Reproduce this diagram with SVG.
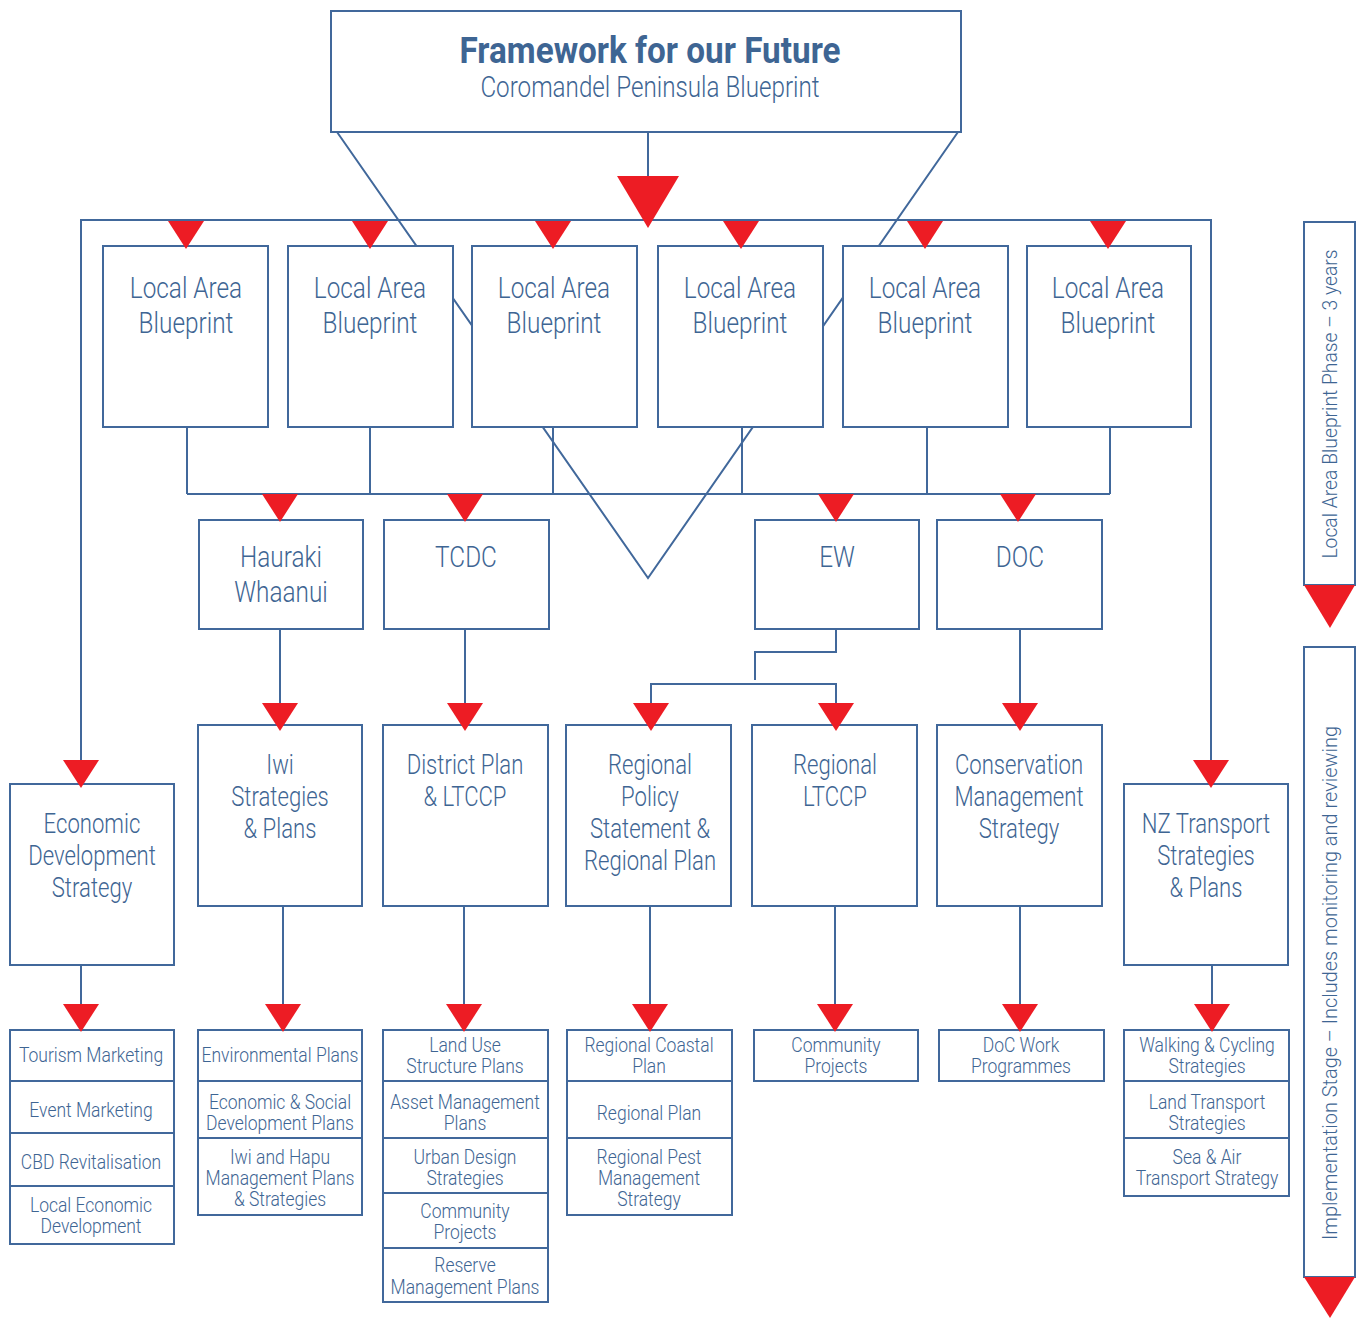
<svg xmlns="http://www.w3.org/2000/svg" width="1362" height="1318" viewBox="0 0 1362 1318">
  <style>
    .box { fill: #ffffff; stroke: #41689b; stroke-width: 2; }
    .ln { fill: none; stroke: #41689b; stroke-width: 2; }
    .tri { fill: #ed1c24; }
    text { font-family: Roboto, "Liberation Sans", sans-serif; fill: #3e6593; text-anchor: middle; font-weight: 300; }
    .big { font-size: 29px; }
    .mid { font-size: 27px; }
    .sm { font-size: 20px; }
    .title { font-size: 37px; font-weight: 700; }
    .sub { font-size: 29px; }
    .side { font-size: 21px; }
  </style>
  <defs>
    <polygon id="arrow" class="tri" points="-18,0 18,0 0,28"/>
  </defs>

  <rect width="1362" height="1318" fill="#ffffff"/>

  <!-- connector lines (drawn beneath the boxes) -->
  <g id="connectors">
    <path class="ln" d="M648,132 V176"/>
    <path class="ln" d="M337,132 L648,578 L958,132"/>
    <path class="ln" d="M81,762 V220 H1211 V762"/>
    <path class="ln" d="M187,427 V494 M370,427 V494 M553,427 V494 M742,427 V494 M927,427 V494 M1110,427 V494 M187,494 H1110"/>
    <path class="ln" d="M280,629 V705 M465,629 V705 M1020,629 V705"/>
    <path class="ln" d="M836,629 V652 H755 V680 M651,705 V684 H836 V705"/>
    <path class="ln" d="M81,965 V1006 M283,906 V1006 M464,906 V1006 M650,906 V1006 M835,906 V1006 M1020,906 V1006 M1212,965 V1006"/>
  </g>

  <!-- title -->
  <g id="title">
    <rect class="box" x="331" y="11" width="630" height="121"/>
    <text class="title" transform="matrix(0.9 0 0 1 650 0)" x="0" y="63">Framework for our Future</text>
    <text class="sub" transform="matrix(0.835 0 0 1 650 0)" x="0" y="97">Coromandel Peninsula Blueprint</text>
  </g>

  <!-- local area blueprints -->
  <g id="lab1"><rect class="box" x="103" y="246" width="165" height="181"/>
    <text class="big" transform="matrix(0.84 0 0 1 186 0)"><tspan x="0" y="298">Local Area</tspan><tspan x="0" y="333">Blueprint</tspan></text></g>
  <g id="lab2"><rect class="box" x="288" y="246" width="165" height="181"/>
    <text class="big" transform="matrix(0.84 0 0 1 370 0)"><tspan x="0" y="298">Local Area</tspan><tspan x="0" y="333">Blueprint</tspan></text></g>
  <g id="lab3"><rect class="box" x="472" y="246" width="165" height="181"/>
    <text class="big" transform="matrix(0.84 0 0 1 554 0)"><tspan x="0" y="298">Local Area</tspan><tspan x="0" y="333">Blueprint</tspan></text></g>
  <g id="lab4"><rect class="box" x="658" y="246" width="165" height="181"/>
    <text class="big" transform="matrix(0.84 0 0 1 740 0)"><tspan x="0" y="298">Local Area</tspan><tspan x="0" y="333">Blueprint</tspan></text></g>
  <g id="lab5"><rect class="box" x="843" y="246" width="165" height="181"/>
    <text class="big" transform="matrix(0.84 0 0 1 925 0)"><tspan x="0" y="298">Local Area</tspan><tspan x="0" y="333">Blueprint</tspan></text></g>
  <g id="lab6"><rect class="box" x="1027" y="246" width="164" height="181"/>
    <text class="big" transform="matrix(0.84 0 0 1 1108 0)"><tspan x="0" y="298">Local Area</tspan><tspan x="0" y="333">Blueprint</tspan></text></g>

  <!-- agencies -->
  <g id="hauraki"><rect class="box" x="199" y="520" width="164" height="109"/>
    <text class="big" transform="matrix(0.84 0 0 1 281 0)"><tspan x="0" y="567">Hauraki</tspan><tspan x="0" y="602">Whaanui</tspan></text></g>
  <g id="tcdc"><rect class="box" x="384" y="520" width="165" height="109"/>
    <text class="big" transform="matrix(0.84 0 0 1 466 0)" x="0" y="567">TCDC</text></g>
  <g id="ew"><rect class="box" x="755" y="520" width="164" height="109"/>
    <text class="big" transform="matrix(0.84 0 0 1 837 0)" x="0" y="567">EW</text></g>
  <g id="doc"><rect class="box" x="937" y="520" width="165" height="109"/>
    <text class="big" transform="matrix(0.84 0 0 1 1020 0)" x="0" y="567">DOC</text></g>

  <!-- strategies and plans -->
  <g id="econ-dev"><rect class="box" x="10" y="784" width="164" height="181"/>
    <text class="mid" transform="matrix(0.82 0 0 1 92 0)"><tspan x="0" y="833">Economic</tspan><tspan x="0" y="865">Development</tspan><tspan x="0" y="897">Strategy</tspan></text></g>
  <g id="iwi"><rect class="box" x="198" y="725" width="164" height="181"/>
    <text class="mid" transform="matrix(0.82 0 0 1 280 0)"><tspan x="0" y="774">Iwi</tspan><tspan x="0" y="806">Strategies</tspan><tspan x="0" y="838">&amp; Plans</tspan></text></g>
  <g id="district-plan"><rect class="box" x="383" y="725" width="165" height="181"/>
    <text class="mid" transform="matrix(0.82 0 0 1 465 0)"><tspan x="0" y="774">District Plan</tspan><tspan x="0" y="806">&amp; LTCCP</tspan></text></g>
  <g id="regional-policy"><rect class="box" x="566" y="725" width="165" height="181"/>
    <text class="mid" transform="matrix(0.82 0 0 1 650 0)"><tspan x="0" y="774">Regional</tspan><tspan x="0" y="806">Policy</tspan><tspan x="0" y="838">Statement &amp;</tspan><tspan x="0" y="870">Regional Plan</tspan></text></g>
  <g id="regional-ltccp"><rect class="box" x="752" y="725" width="165" height="181"/>
    <text class="mid" transform="matrix(0.82 0 0 1 835 0)"><tspan x="0" y="774">Regional</tspan><tspan x="0" y="806">LTCCP</tspan></text></g>
  <g id="conservation"><rect class="box" x="937" y="725" width="165" height="181"/>
    <text class="mid" transform="matrix(0.82 0 0 1 1019 0)"><tspan x="0" y="774">Conservation</tspan><tspan x="0" y="806">Management</tspan><tspan x="0" y="838">Strategy</tspan></text></g>
  <g id="nz-transport"><rect class="box" x="1124" y="784" width="164" height="181"/>
    <text class="mid" transform="matrix(0.82 0 0 1 1206 0)"><tspan x="0" y="833">NZ Transport</tspan><tspan x="0" y="865">Strategies</tspan><tspan x="0" y="897">&amp; Plans</tspan></text></g>

  <!-- implementation lists -->
  <g id="list-econ">
    <rect class="box" x="10" y="1030" width="164" height="51"/>
    <rect class="box" x="10" y="1081" width="164" height="52"/>
    <rect class="box" x="10" y="1133" width="164" height="53"/>
    <rect class="box" x="10" y="1186" width="164" height="58"/>
    <text class="sm" transform="matrix(0.875 0 0 1 91 0)"><tspan x="0" y="1062">Tourism Marketing</tspan><tspan x="0" y="1117">Event Marketing</tspan><tspan x="0" y="1169">CBD Revitalisation</tspan><tspan x="0" y="1212">Local Economic</tspan><tspan x="0" y="1233">Development</tspan></text>
  </g>
  <g id="list-iwi">
    <rect class="box" x="198" y="1030" width="164" height="51"/>
    <rect class="box" x="198" y="1081" width="164" height="57"/>
    <rect class="box" x="198" y="1138" width="164" height="77"/>
    <text class="sm" transform="matrix(0.875 0 0 1 280 0)"><tspan x="0" y="1062">Environmental Plans</tspan><tspan x="0" y="1109">Economic &amp; Social</tspan><tspan x="0" y="1130">Development Plans</tspan><tspan x="0" y="1164">Iwi and Hapu</tspan><tspan x="0" y="1185">Management Plans</tspan><tspan x="0" y="1206">&amp; Strategies</tspan></text>
  </g>
  <g id="list-district">
    <rect class="box" x="383" y="1030" width="165" height="51"/>
    <rect class="box" x="383" y="1081" width="165" height="57"/>
    <rect class="box" x="383" y="1138" width="165" height="55"/>
    <rect class="box" x="383" y="1193" width="165" height="55"/>
    <rect class="box" x="383" y="1248" width="165" height="54"/>
    <text class="sm" transform="matrix(0.875 0 0 1 465 0)"><tspan x="0" y="1052">Land Use</tspan><tspan x="0" y="1073">Structure Plans</tspan><tspan x="0" y="1109">Asset Management</tspan><tspan x="0" y="1130">Plans</tspan><tspan x="0" y="1164">Urban Design</tspan><tspan x="0" y="1185">Strategies</tspan><tspan x="0" y="1218">Community</tspan><tspan x="0" y="1239">Projects</tspan><tspan x="0" y="1272">Reserve</tspan><tspan x="0" y="1294">Management Plans</tspan></text>
  </g>
  <g id="list-regional">
    <rect class="box" x="567" y="1030" width="165" height="51"/>
    <rect class="box" x="567" y="1081" width="165" height="57"/>
    <rect class="box" x="567" y="1138" width="165" height="77"/>
    <text class="sm" transform="matrix(0.875 0 0 1 649 0)"><tspan x="0" y="1052">Regional Coastal</tspan><tspan x="0" y="1073">Plan</tspan><tspan x="0" y="1120">Regional Plan</tspan><tspan x="0" y="1164">Regional Pest</tspan><tspan x="0" y="1185">Management</tspan><tspan x="0" y="1206">Strategy</tspan></text>
  </g>
  <g id="list-community">
    <rect class="box" x="754" y="1030" width="164" height="51"/>
    <text class="sm" transform="matrix(0.875 0 0 1 836 0)"><tspan x="0" y="1052">Community</tspan><tspan x="0" y="1073">Projects</tspan></text>
  </g>
  <g id="list-doc">
    <rect class="box" x="939" y="1030" width="165" height="51"/>
    <text class="sm" transform="matrix(0.875 0 0 1 1021 0)"><tspan x="0" y="1052">DoC Work</tspan><tspan x="0" y="1073">Programmes</tspan></text>
  </g>
  <g id="list-transport">
    <rect class="box" x="1124" y="1030" width="165" height="51"/>
    <rect class="box" x="1124" y="1081" width="165" height="57"/>
    <rect class="box" x="1124" y="1138" width="165" height="58"/>
    <text class="sm" transform="matrix(0.875 0 0 1 1207 0)"><tspan x="0" y="1052">Walking &amp; Cycling</tspan><tspan x="0" y="1073">Strategies</tspan><tspan x="0" y="1109">Land Transport</tspan><tspan x="0" y="1130">Strategies</tspan><tspan x="0" y="1164">Sea &amp; Air</tspan><tspan x="0" y="1185">Transport Strategy</tspan></text>
  </g>

  <!-- phase bars -->
  <g id="phase-blueprint">
    <rect class="box" x="1304" y="222" width="51" height="363"/>
    <polygon class="tri" points="1304,585 1355,585 1330,628"/>
    <text class="side" transform="translate(1337,404) rotate(-90) scale(0.92,1)" x="0" y="0">Local Area Blueprint Phase – 3 years</text>
  </g>
  <g id="phase-implementation">
    <rect class="box" x="1304" y="647" width="51" height="630"/>
    <polygon class="tri" points="1304,1277 1355,1277 1330,1318"/>
    <text class="side" transform="translate(1337,983) rotate(-90) scale(0.95,1)" x="0" y="0">Implementation Stage –  Includes monitoring and reviewing</text>
  </g>

  <!-- arrowheads (on top of box edges) -->
  <g id="arrowheads">
    <polygon class="tri" points="617,176 679,176 648,228"/>
    <use href="#arrow" x="186" y="221"/>
    <use href="#arrow" x="370" y="221"/>
    <use href="#arrow" x="553" y="221"/>
    <use href="#arrow" x="741" y="221"/>
    <use href="#arrow" x="925" y="221"/>
    <use href="#arrow" x="1108" y="221"/>
    <use href="#arrow" x="280" y="494"/>
    <use href="#arrow" x="465" y="494"/>
    <use href="#arrow" x="836" y="494"/>
    <use href="#arrow" x="1018" y="494"/>
    <use href="#arrow" x="280" y="703"/>
    <use href="#arrow" x="465" y="703"/>
    <use href="#arrow" x="651" y="703"/>
    <use href="#arrow" x="836" y="703"/>
    <use href="#arrow" x="1020" y="703"/>
    <use href="#arrow" x="81" y="760"/>
    <use href="#arrow" x="1211" y="760"/>
    <use href="#arrow" x="81" y="1004"/>
    <use href="#arrow" x="283" y="1004"/>
    <use href="#arrow" x="464" y="1004"/>
    <use href="#arrow" x="650" y="1004"/>
    <use href="#arrow" x="835" y="1004"/>
    <use href="#arrow" x="1020" y="1004"/>
    <use href="#arrow" x="1212" y="1004"/>
  </g>
</svg>
